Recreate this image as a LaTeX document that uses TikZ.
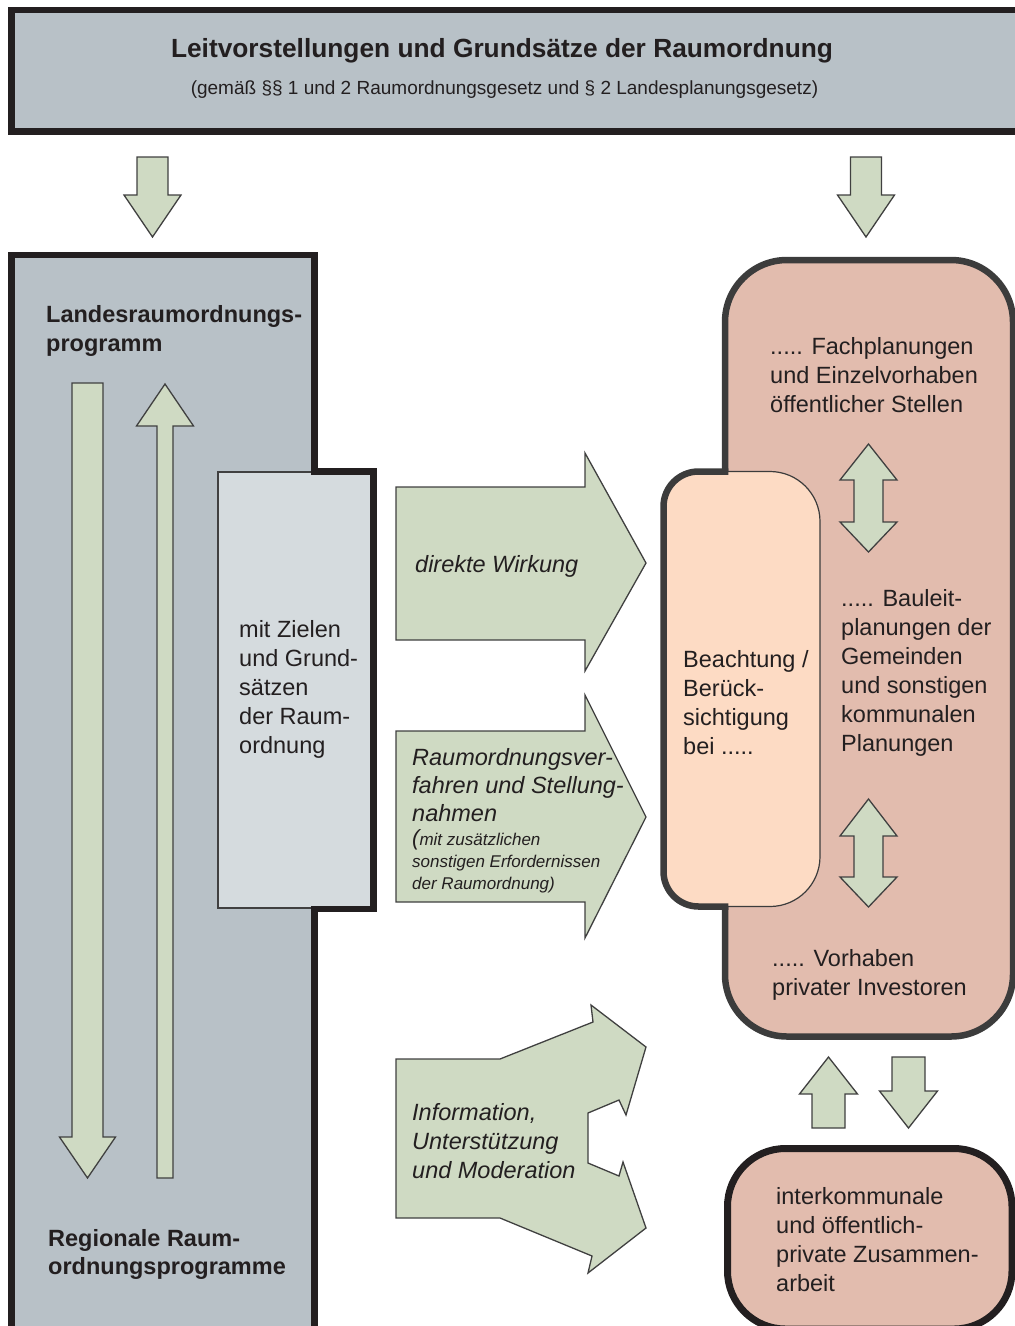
\documentclass[tikz,border=0pt]{standalone}
\usepackage{fontspec}
\setmainfont{Liberation Sans}
\definecolor{grayfill}{HTML}{B8C1C7}
\definecolor{lightgrayfill}{HTML}{D5DBDE}
\definecolor{arrowgreen}{HTML}{CFDAC3}
\definecolor{pinkfill}{HTML}{E2BCAE}
\definecolor{peachfill}{HTML}{FDDBC4}
\definecolor{darkline}{HTML}{231F20}
\definecolor{boxline}{HTML}{3C3C3C}
\definecolor{arrowline}{HTML}{404040}
\definecolor{textcol}{HTML}{231F20}
\newcommand\fr{\rule{0pt}{20pt}}
% vertical arrow: cx, tail y, shaft half width, head base y, head half width, tip y
\newcommand\vArrow[6]{\draw[greenarrow] ({#1-#3},#2) -- ({#1+#3},#2) -- ({#1+#3},#4) -- ({#1+#5},#4) -- (#1,#6) -- ({#1-#5},#4) -- ({#1-#3},#4) -- cycle;}
% double arrow: cx, tip1, base1, base2, tip2, shaft half, head half
\newcommand\dArrow[7]{\draw[greenarrow] (#1,#2) -- ({#1+#7},#3) -- ({#1+#6},#3) -- ({#1+#6},#4) -- ({#1+#7},#4) -- (#1,#5) -- ({#1-#7},#4) -- ({#1-#6},#4) -- ({#1-#6},#3) -- ({#1-#7},#3) -- cycle;}
\tikzset{
  greenarrow/.style={fill=arrowgreen, draw=arrowline, line width=1.3pt, line join=miter},
  thickborder/.style={draw=darkline, line width=6.5pt, line join=miter},
  txt/.style={anchor=north west, inner sep=0pt, align=left, text=textcol, font=\fontsize{23.5}{29}\selectfont},
  btxt/.style={txt, font=\fontsize{23.5}{29}\selectfont\bfseries},
  itxt/.style={txt, font=\fontsize{23.5}{29}\selectfont\itshape},
}
\begin{document}
\begin{tikzpicture}[x=1pt,y=-1pt]
\useasboundingbox (0,0) rectangle (1015,1326);
\clip (0,0) rectangle (1015,1326);

% ---------- top box ----------
\draw[thickborder, fill=grayfill] (11.5,10) rectangle (1040,131.5);
\node[anchor=base, inner sep=0pt, text=textcol, font=\fontsize{26.3}{30}\selectfont\bfseries] (title) at (502,57) {Leitvorstellungen und Grundsätze der Raumordnung};
\node[anchor=base, inner sep=0pt, text=textcol, font=\fontsize{19}{23}\selectfont] (subtitle) at (504.5,94) {(gemäß §§ 1 und 2 Raumordnungsgesetz und § 2 Landesplanungsgesetz)};

% down arrows from top box
\vArrow{152.5}{157}{15.5}{195}{28.5}{237}
\vArrow{866}{157}{15.5}{195}{28.5}{237}

% ---------- left box ----------
\fill[grayfill] (11.5,1340) -- (11.5,255) -- (314.5,255) -- (314.5,471.5) -- (373.5,471.5) -- (373.5,909) -- (314.5,909) -- (314.5,1340) -- cycle;
\draw[fill=lightgrayfill, draw=arrowline, line width=1.2pt] (218,472) rectangle (373.5,908);
\draw[thickborder] (11.5,1340) -- (11.5,255) -- (314.5,255) -- (314.5,471.5) -- (373.5,471.5) -- (373.5,909) -- (314.5,909) -- (314.5,1340);

\vArrow{87.5}{383}{15.5}{1137}{28}{1178}
\vArrow{165}{1178}{8}{426}{28.5}{384}

\node[btxt] (lrop) at (46,302) {\fr Landesraumordnungs-\\programm};
\node[btxt, font=\fontsize{23.5}{28}\selectfont\bfseries] (rrop) at (48,1226) {\fr Regionale Raum-\\ordnungsprogramme};
\node[txt] (ziele) at (239,617.5) {\fr mit Zielen\\und Grund-\\sätzen\\der Raum-\\ordnung};

% ---------- middle arrows ----------
\draw[greenarrow] (396,487) -- (585,487) -- (585,453) -- (646,563) -- (585,671) -- (585,640) -- (396,640) -- cycle;
\node[itxt] (direkt) at (415,552) {\fr direkte Wirkung};

\draw[greenarrow] (396,731) -- (585,731) -- (585,695) -- (646,817) -- (585,938) -- (585,902) -- (396,902) -- cycle;
\node[itxt, font=\fontsize{23.5}{28}\selectfont\itshape] (rov) at (412,745) {\fr Raumordnungsver-\\fahren und Stellung-\\nahmen};
\node[itxt, font=\fontsize{17}{22}\selectfont\itshape] (rovsmall) at (412,825) {\fr{\fontsize{22}{22}\selectfont(}mit zusätzlichen\\sonstigen Erfordernissen\\der Raumordnung)};

\draw[greenarrow] (396,1059) -- (500,1059) -- (593,1022) -- (591,1005) -- (646,1047) -- (626,1115) -- (619,1100) -- (588,1113) -- (588,1163) -- (619,1176) -- (623,1162) -- (646,1228) -- (588,1273) -- (592,1256) -- (500,1218) -- (396,1218) -- cycle;
\node[itxt] (info) at (412,1100) {\fr Information,\\Unterstützung\\und Moderation};

% ---------- right pink box ----------
\draw[line width=6.5pt, draw=boxline, fill=pinkfill, rounded corners=62pt] (725,260) rectangle (1013,1036.5);
\path[fill=peachfill, draw=boxline, line width=1.2pt]
  (663.5,506.5) arc[start angle=180, end angle=270, radius=35]
  -- (770,471.5) arc[start angle=270, end angle=360, radius=50]
  -- (820,856.5) arc[start angle=0, end angle=90, radius=50]
  -- (698.5,906.5) arc[start angle=90, end angle=180, radius=35]
  -- cycle;
\draw[line width=6.5pt, draw=boxline]
  (728.25,471.5) -- (698.5,471.5) arc[start angle=270, end angle=180, radius=35]
  -- (663.5,871.5) arc[start angle=180, end angle=90, radius=35] -- (728.25,906.5);

\dArrow{868.5}{444}{480}{522}{552}{14.5}{28.5}
\dArrow{868.5}{799}{836}{877}{907}{14.5}{28.5}

\node[txt] (fach) at (770,334) {\fr ..... Fachplanungen\\und Einzelvorhaben\\öffentlicher Stellen};
\node[txt] (beacht) at (683,647) {\fr Beachtung /\\Berück-\\sichtigung\\bei .....};
\node[txt] (baul) at (841,586) {\fr ..... Bauleit-\\planungen der\\Gemeinden\\und sonstigen\\kommunalen\\Planungen};
\node[txt] (vorh) at (772,946) {\fr ..... Vorhaben\\privater Investoren};

% arrows between pink boxes
\vArrow{828.5}{1128}{16.5}{1094}{29}{1057}
\vArrow{908.5}{1057}{16.5}{1091}{29}{1128}

% ---------- interkommunale box ----------
\draw[line width=7pt, draw=darkline, fill=pinkfill, rounded corners=58pt] (727.5,1148.5) rectangle (1012,1329);
\node[txt] (inter) at (776,1184) {\fr interkommunale\\und öffentlich-\\private Zusammen-\\arbeit};
\end{tikzpicture}
\end{document}
